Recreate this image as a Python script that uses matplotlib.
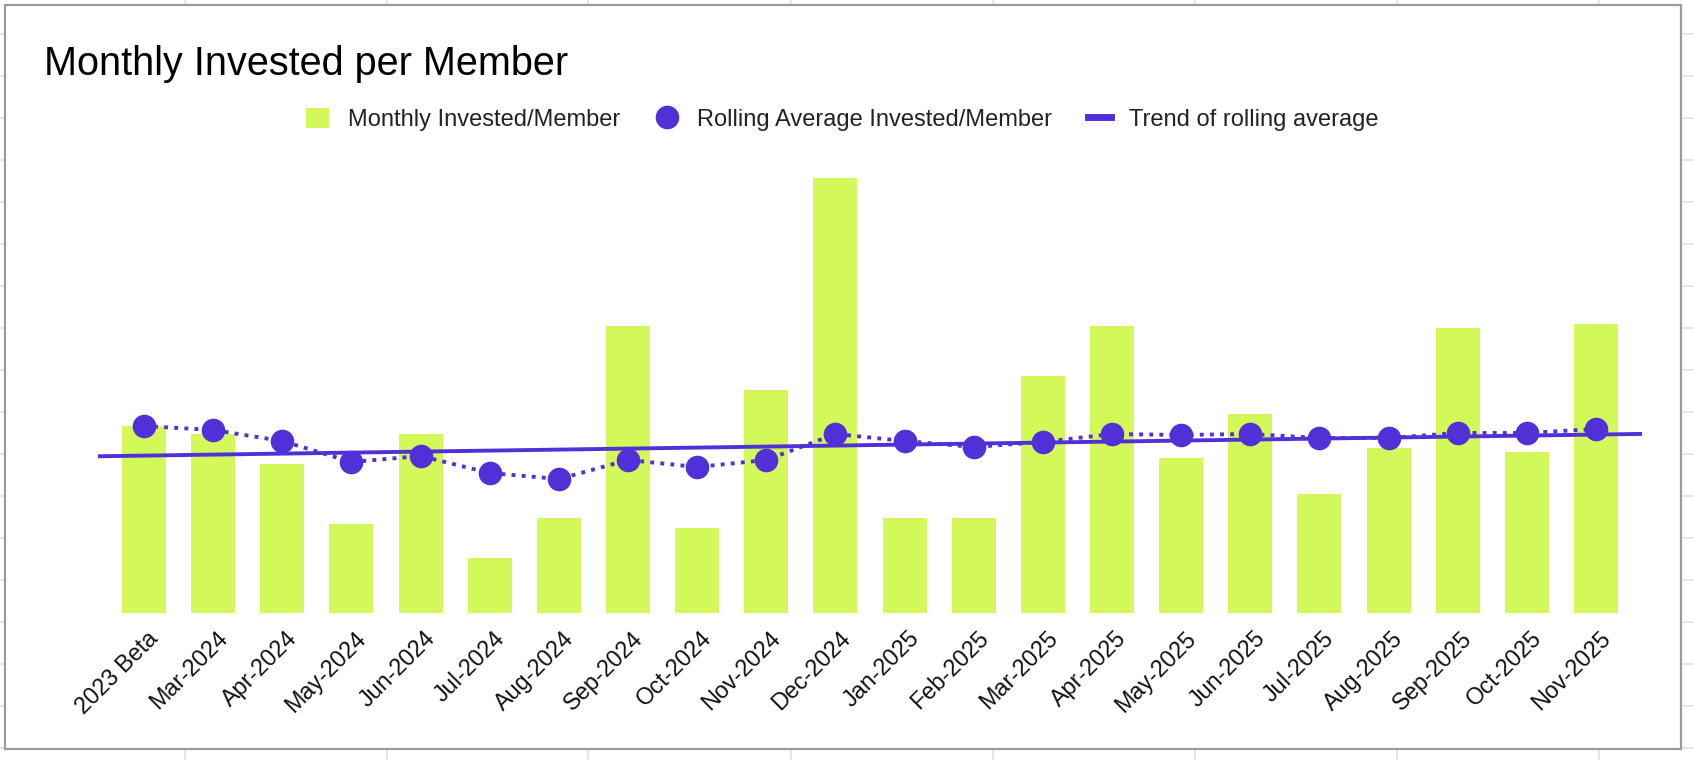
import numpy as np
import matplotlib.pyplot as plt
from matplotlib.lines import Line2D
from matplotlib.patches import Patch, Rectangle
from matplotlib.transforms import ScaledTranslation

plt.rcParams['font.family'] = ['Liberation Sans', 'DejaVu Sans']

# ======================================
# Data
# ======================================

months = ['2023 Beta', 'Mar-2024', 'Apr-2024', 'May-2024', 'Jun-2024', 'Jul-2024',
          'Aug-2024', 'Sep-2024', 'Oct-2024', 'Nov-2024', 'Dec-2024', 'Jan-2025',
          'Feb-2025', 'Mar-2025', 'Apr-2025', 'May-2025', 'Jun-2025', 'Jul-2025',
          'Aug-2025', 'Sep-2025', 'Oct-2025', 'Nov-2025']

invested_per_member = [187, 179, 149, 89, 179, 55, 95, 287, 85, 223, 435,
                       95, 95, 237, 287, 155, 199, 119, 165, 285, 161, 289]

rolling_avg = [187, 183, 172, 151, 157, 140, 134, 153, 146, 153, 179,
               172, 166, 171, 179, 178, 179, 175, 175, 180, 180, 184]

GREEN = '#d3f85a'
PURPLE = '#5131d7'
W, H = 1694, 760

# ======================================
# Figure + spreadsheet background
# ======================================

fig = plt.figure(figsize=(W / 100, H / 100), dpi=100)
fig.patch.set_facecolor('white')

grid_color = '#e1e1e1'
for gx in [185, 387, 588, 791, 993, 1195, 1397, 1599]:
    fig.add_artist(Line2D([gx / W, gx / W], [0, 1], color=grid_color, lw=1.2,
                          transform=fig.transFigure, zorder=-3))
for gy in range(34, 760, 42):
    fig.add_artist(Line2D([0, 1], [1 - gy / H, 1 - gy / H], color=grid_color, lw=1.2,
                          transform=fig.transFigure, zorder=-3))

fig.add_artist(Rectangle((5 / W, 1 - 749 / H), (1681 - 5) / W, (749 - 5) / H,
                         transform=fig.transFigure, facecolor='white',
                         edgecolor='#9b9b9b', lw=1.6, zorder=-2))

# ======================================
# Plot
# ======================================

left, right, bottom, top = 98, 1642, 613, 150
ax = fig.add_axes([left / W, 1 - bottom / H, (right - left) / W, (bottom - top) / H])
ax.set_facecolor('none')

x = np.arange(len(months))
ax.bar(x, invested_per_member, width=0.636, color=GREEN, zorder=1)

ax.set_xlim(-0.665, len(months) - 1 + 0.665)
ax.set_ylim(0, bottom - top)

# trend of rolling average (least squares)
slope, intercept = np.polyfit(x, rolling_avg, 1)
xs = np.array(ax.get_xlim())
ax.plot(xs, slope * xs + intercept, color=PURPLE, lw=2.8, zorder=2)

ax.plot(x, rolling_avg, color=PURPLE, lw=2.8, linestyle=(0, (1, 1.6)),
        dash_capstyle='butt', zorder=3)
ax.plot(x, rolling_avg, 'o', color=PURPLE, markersize=17, markeredgewidth=0, zorder=4)

for side in ['left', 'right', 'top', 'bottom']:
    ax.spines[side].set_visible(False)
ax.set_yticks([])
ax.set_xticks(x)
ax.set_xticklabels(months, rotation=45, ha='right', va='top',
                   rotation_mode='anchor', fontsize=16.8, color='#111111')
ax.tick_params(axis='x', length=0, pad=10)
shift = ScaledTranslation(0.03, 0, fig.dpi_scale_trans)
for lbl in ax.get_xticklabels():
    lbl.set_transform(lbl.get_transform() + shift)

# ======================================
# Title + legend
# ======================================

fig.text(44 / W, 1 - 75 / H, 'Monthly Invested per Member', fontsize=28.5,
         ha='left', va='baseline', color='black')

handles = [
    Patch(facecolor=GREEN, edgecolor='none', label='Monthly Invested/Member'),
    Line2D([], [], marker='o', ls='none', color=PURPLE, markersize=17,
           markeredgewidth=0, label='Rolling Average Invested/Member'),
    Line2D([], [], color=PURPLE, lw=5, label='Trend of rolling average'),
]
fig.legend(handles=handles, loc='center', bbox_to_anchor=(842.5 / W, 1 - 119.5 / H),
           ncol=3, frameon=False, fontsize=17, handlelength=0.97, handleheight=0.97,
           handletextpad=0.8, columnspacing=1.5, borderpad=0, borderaxespad=0,
           labelcolor='#222222')

fig.savefig('out.png', dpi=100, facecolor='white')
